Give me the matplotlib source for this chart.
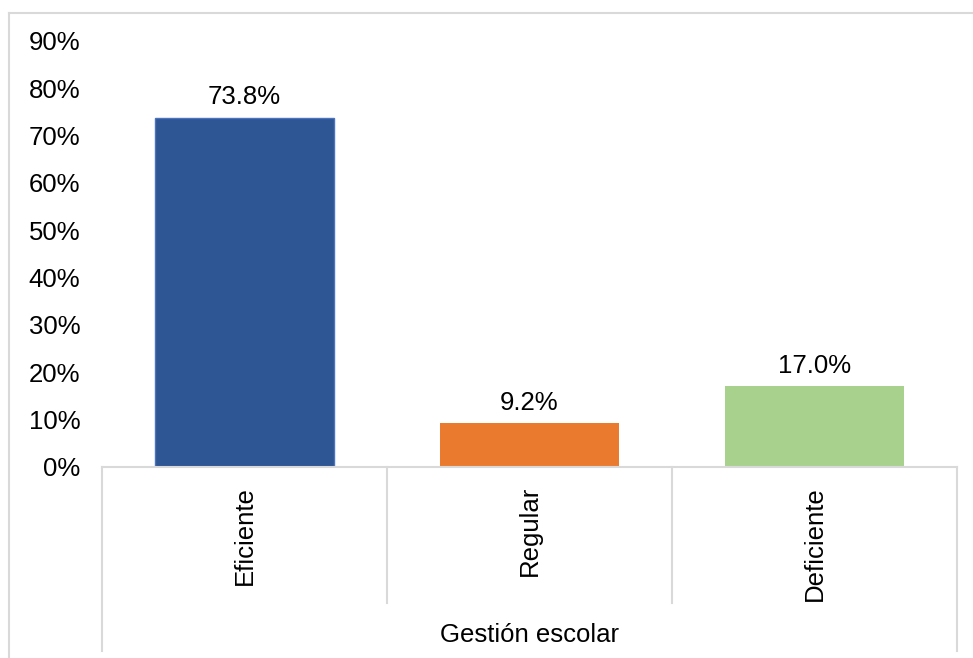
import matplotlib.pyplot as plt
from matplotlib.lines import Line2D
import matplotlib.transforms as mtransforms

# Datos
categorias = ['Eficiente', 'Regular', 'Deficiente']
porcentajes = [73.8, 9.2, 17.0]
colores = ['#2E5594', '#EA7A2E', '#A9D18E']
grupo = 'Gestión escolar'
ticks_y = [0, 10, 20, 30, 40, 50, 60, 70, 80, 90]

plt.rcParams['font.family'] = ['Liberation Sans', 'DejaVu Sans']
fs = 18.5
gris = '#D9D9D9'

W, H = 973, 658
fig = plt.figure(figsize=(W / 100, H / 100), dpi=100)

# posicion del area de trazado (en pixeles)
x0, x1 = 102, 957
y_cero, y_top = 466.7, 41
ax = fig.add_axes([x0 / W, (H - y_cero) / H, (x1 - x0) / W, (y_cero - y_top) / H])

x = list(range(len(categorias)))
barras = ax.bar(x, porcentajes, width=0.63, color=colores, zorder=2)
barras[0].set_edgecolor('#4A74C0')
barras[0].set_linewidth(1.0)
ax.bar_label(barras, labels=[f'{v:.1f}%' for v in porcentajes], padding=6, fontsize=fs)

ax.set_xlim(-0.5, len(categorias) - 0.5)
ax.set_ylim(0, 90)
ax.set_yticks(ticks_y)
ax.set_yticklabels([f'{t}%' for t in ticks_y], fontsize=fs)
ax.tick_params(axis='y', length=0, pad=15.5)
ax.set_xticks([])
for s in ax.spines.values():
    s.set_visible(False)

# eje horizontal y divisiones de categorias
trans = mtransforms.blended_transform_factory(ax.transData, ax.transAxes)
alto = y_cero - y_top
y_div = -(603 - y_cero) / alto
y_fin = -(651 - y_cero) / alto
kw = dict(color=gris, lw=1.5, clip_on=False, transform=trans)
ax.plot([-0.5, len(categorias) - 0.5], [0, 0], **kw)
ax.plot([-0.5, -0.5], [0, y_fin], **kw)
ax.plot([len(categorias) - 0.5] * 2, [0, y_fin], **kw)
for i in range(1, len(categorias)):
    ax.plot([i - 0.5, i - 0.5], [0, y_div], **kw)

y_lab = -(486 - y_cero) / alto
for i, c in enumerate(categorias):
    ax.text(i, y_lab, c, rotation=90, ha='center', va='top', fontsize=fs, transform=trans)

ax.text(1, -(635 - y_cero) / alto, grupo, ha='center', va='center', fontsize=fs, transform=trans)

# borde exterior del grafico
fig.add_artist(Line2D([9 / W, 1.0], [(H - 12.5) / H] * 2, color=gris, lw=1.5))
fig.add_artist(Line2D([9 / W, 9 / W], [0, (H - 12.5) / H], color=gris, lw=1.5))

fig.savefig('out.png', dpi=100)
